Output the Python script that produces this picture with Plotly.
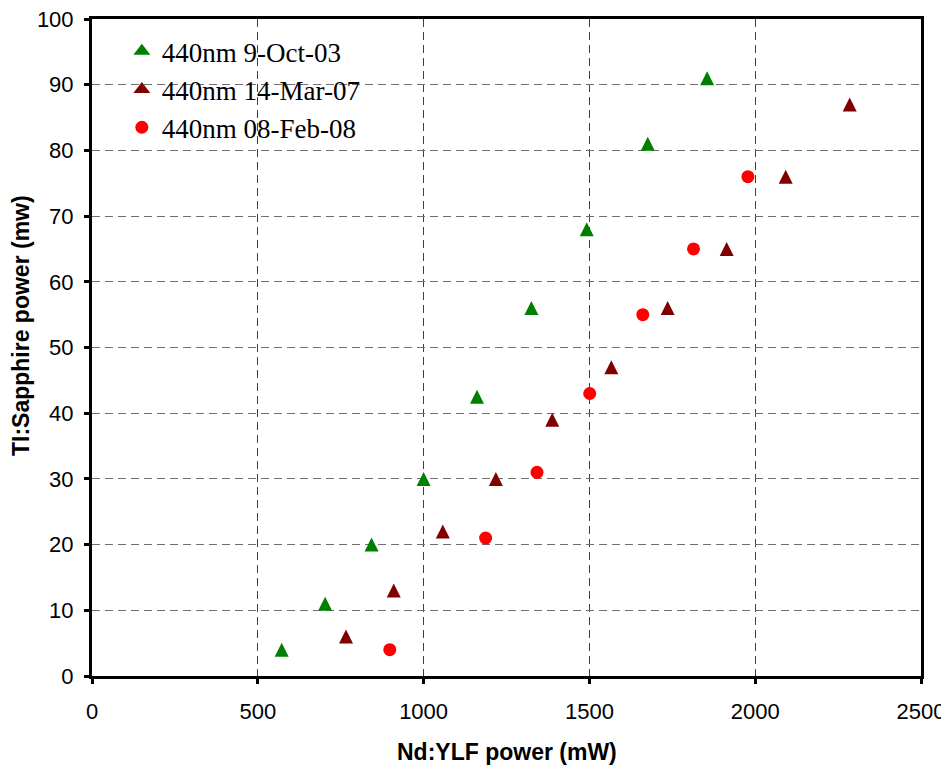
import plotly.graph_objects as go

# Data
oct03_x = [572, 703, 843, 1000, 1161, 1325, 1492, 1676, 1855]
oct03_y = [4, 11, 20, 30, 42.5, 56, 68, 81, 91]

mar07_x = [766, 910, 1058, 1218, 1388, 1566, 1736, 1914, 2092, 2285]
mar07_y = [6, 13, 22, 30, 39, 47, 56, 65, 76, 87]

feb08_x = [898, 1187, 1342, 1501, 1661, 1814, 1978]
feb08_y = [4, 21, 31, 43, 55, 65, 76]

series_names = ["440nm 9-Oct-03", "440nm 14-Mar-07", "440nm 08-Feb-08"]
series_colors = ["#008000", "#800000", "#FF0000"]

x_ticks = [0, 500, 1000, 1500, 2000, 2500]
y_ticks = [0, 10, 20, 30, 40, 50, 60, 70, 80, 90, 100]

TRI = 14

fig = go.Figure()
# data triangles (equal width/height triangle drawn via rotated arrow symbol)
fig.add_trace(go.Scatter(
    x=oct03_x, y=oct03_y, mode="markers", name=series_names[0],
    legendgroup="g0", showlegend=False,
    marker=dict(symbol="arrow-down", angle=180, standoff=TRI / 2, size=TRI,
                color=series_colors[0], line=dict(width=0)),
))
fig.add_trace(go.Scatter(
    x=mar07_x, y=mar07_y, mode="markers", name=series_names[1],
    legendgroup="g1", showlegend=False,
    marker=dict(symbol="arrow-down", angle=180, standoff=TRI / 2, size=TRI,
                color=series_colors[1], line=dict(width=0)),
))
# legend entries for the triangle series
for i in (0, 1):
    fig.add_trace(go.Scatter(
        x=[None], y=[None], mode="markers", name=series_names[i],
        legendgroup="g%d" % i, showlegend=True, hoverinfo="skip",
        marker=dict(symbol="triangle-up", size=12, color=series_colors[i],
                    line=dict(width=1.5, color=series_colors[i])),
    ))
fig.add_trace(go.Scatter(
    x=feb08_x, y=feb08_y, mode="markers", name=series_names[2],
    marker=dict(symbol="circle", size=13, color=series_colors[2], line=dict(width=0)),
))

axis_font = dict(family="Liberation Sans, Arial, sans-serif", size=22, color="black")
title_font = dict(family="Liberation Sans, Arial, sans-serif", size=23, color="black")

fig.update_layout(
    width=949, height=769,
    margin=dict(l=84, r=36, t=11, b=101, autoexpand=False),
    paper_bgcolor="white", plot_bgcolor="white",
    showlegend=True,
    legend=dict(
        x=0.036, y=0.9878, xanchor="left", yanchor="top",
        bgcolor="rgba(0,0,0,0)", borderwidth=0,
        font=dict(family="Liberation Serif, Times New Roman, serif", size=27, color="black"),
        itemwidth=30, tracegroupgap=0,
    ),
    xaxis=dict(
        range=[0, 2500], tickvals=x_ticks, ticktext=[str(v) for v in x_ticks],
        showline=True, linecolor="black", linewidth=3, mirror=True,
        ticks="outside", ticklen=5, tickwidth=3, tickcolor="black",
        tickfont=axis_font, ticklabelstandoff=9, automargin=False,
        ticklabeloverflow="allow",
        showgrid=True, gridcolor="#404040", gridwidth=1.2, griddash="8px,5px",
        zeroline=False,
    ),
    yaxis=dict(
        range=[0, 100], tickvals=y_ticks, ticktext=[str(v) for v in y_ticks],
        showline=True, linecolor="black", linewidth=3, mirror=True,
        ticks="outside", ticklen=5, tickwidth=3, tickcolor="black",
        tickfont=axis_font, ticklabelstandoff=6, automargin=False,
        ticklabeloverflow="allow",
        showgrid=True, gridcolor="#707070", gridwidth=1.2, griddash="8px,5px",
        zeroline=False,
    ),
    annotations=[
        dict(text="<b>Nd:YLF power (mW)</b>", xref="paper", yref="paper",
             x=0.5006, y=-0.1157, xanchor="center", yanchor="middle", showarrow=False,
             font=title_font),
        dict(text="<b>TI:Sapphire power (mw)</b>", xref="paper", yref="paper",
             x=-0.0856, y=0.5327, xanchor="center", yanchor="middle", showarrow=False,
             textangle=-90, font=title_font),
    ],
)

fig.write_html("out.html")
